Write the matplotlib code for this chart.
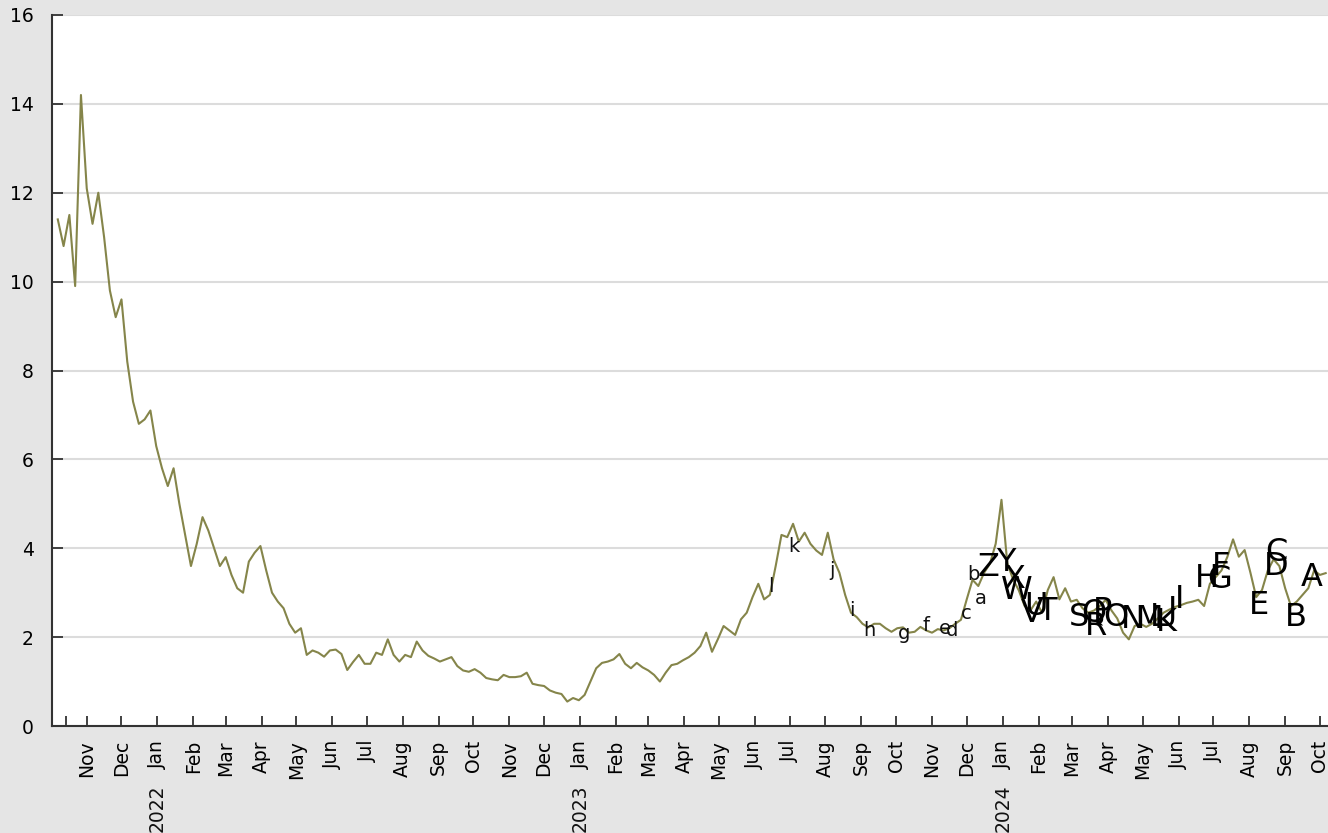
import numpy as np
import pandas as pd
import matplotlib
matplotlib.use("Agg")
import matplotlib.pyplot as plt
import matplotlib.dates as mdates
import matplotlib.transforms as mtransforms

# Serie (cada 5 dias)
start_date = "2021-10-07"
values = [
    11.4, 10.8, 11.5, 9.9, 14.2, 12.1, 11.3, 12.0, 11.0, 9.8,
    9.2, 9.6, 8.2, 7.3, 6.8, 6.9, 7.1, 6.3, 5.8, 5.4,
    5.8, 5.0, 4.3, 3.6, 4.1, 4.7, 4.4, 4.0, 3.6, 3.8,
    3.4, 3.1, 3.0, 3.7, 3.9, 4.05, 3.5, 3.0, 2.8, 2.65,
    2.3, 2.1, 2.2, 1.6, 1.7, 1.65, 1.56, 1.7, 1.72, 1.62,
    1.26, 1.44, 1.6, 1.4, 1.4, 1.65, 1.6, 1.95, 1.6, 1.45,
    1.6, 1.55, 1.9, 1.7, 1.58, 1.52, 1.45, 1.5, 1.55, 1.35,
    1.25, 1.22, 1.28, 1.2, 1.08, 1.05, 1.03, 1.15, 1.1, 1.1,
    1.12, 1.2, 0.95, 0.92, 0.9, 0.8, 0.75, 0.72, 0.55, 0.63,
    0.58, 0.7, 1.0, 1.3, 1.42, 1.45, 1.5, 1.62, 1.4, 1.3,
    1.42, 1.32, 1.25, 1.15, 1.0, 1.2, 1.37, 1.4, 1.48, 1.55,
    1.65, 1.8, 2.1, 1.67, 1.95, 2.25, 2.15, 2.05, 2.4, 2.55,
    2.9, 3.2, 2.85, 2.95, 3.6, 4.3, 4.25, 4.55, 4.15, 4.35,
    4.1, 3.95, 3.85, 4.35, 3.75, 3.45, 2.95, 2.55, 2.45, 2.3,
    2.22, 2.3, 2.3, 2.2, 2.12, 2.2, 2.22, 2.1, 2.12, 2.23,
    2.15, 2.1, 2.18, 2.15, 2.2, 2.3, 2.39, 2.85, 3.29, 3.15,
    3.45, 3.65, 4.1, 5.09, 3.67, 3.3, 3.05, 2.7, 2.6, 2.8,
    2.55, 3.06, 3.35, 2.85, 3.1, 2.8, 2.84, 2.65, 2.55, 2.6,
    2.7, 2.84, 2.6, 2.42, 2.1, 1.95, 2.25, 2.3, 2.23, 2.3,
    2.42, 2.55, 2.62, 2.68, 2.72, 2.77, 2.8, 2.84, 2.7, 3.2,
    3.35, 3.5, 3.8, 4.2, 3.81, 3.96, 3.45, 2.9, 3.06, 3.5,
    3.75, 3.6, 3.1, 2.7, 2.8, 2.95, 3.1, 3.5, 3.4, 3.44,
]

# Etiquetas de letras (mayusculas y minusculas)
upper_labels = list("ABCDEFGHIJKLMNOPQRSTUVWXYZ")
upper_dates = [
    "2024-09-24", "2024-09-10", "2024-08-24", "2024-08-24", "2024-08-09",
    "2024-07-08", "2024-07-06", "2024-06-25", "2024-06-02", "2024-05-27",
    "2024-05-21", "2024-05-15", "2024-05-07", "2024-04-22", "2024-04-08",
    "2024-03-27", "2024-03-20", "2024-03-22", "2024-03-07", "2024-02-08",
    "2024-01-30", "2024-01-26", "2024-01-13", "2024-01-11", "2024-01-04",
    "2023-12-20",
]
upper_values = [
    3.35, 2.45, 3.9, 3.58, 2.72, 3.58, 3.29, 3.33, 2.84, 2.61,
    2.32, 2.45, 2.39, 2.39, 2.45, 2.57, 2.54, 2.23, 2.45, 2.57,
    2.68, 2.54, 3.06, 3.29, 3.69, 3.56,
]
lower_labels = list("abcdefghijkl")
lower_dates = [
    "2023-12-13", "2023-12-07", "2023-12-01", "2023-11-18", "2023-11-12",
    "2023-10-27", "2023-10-08", "2023-09-08", "2023-08-24", "2023-08-07",
    "2023-07-05", "2023-06-15",
]
lower_values = [2.88, 3.4, 2.54, 2.16, 2.2, 2.27, 2.09, 2.16, 2.61, 3.51, 4.03, 3.13]

years = ["2022", "2023", "2024"]

dates = pd.date_range(start_date, periods=len(values), freq="5D")

fig = plt.figure(figsize=(13.28, 8.33), dpi=100, facecolor="#e5e5e5")
ax = fig.add_axes([52 / 1328, 107 / 833, 1276 / 1328, 711 / 833])
ax.set_facecolor("white")

ax.plot(dates, values, color="#85854a", lw=1.5, zorder=3)

for lab, d, v in zip(upper_labels, upper_dates, upper_values):
    ax.text(mdates.date2num(pd.Timestamp(d)), v, lab, fontsize=23, ha="center",
            va="center", color="#000000", zorder=4)
for lab, d, v in zip(lower_labels, lower_dates, lower_values):
    ax.text(mdates.date2num(pd.Timestamp(d)), v, lab, fontsize=14, ha="center",
            va="center", color="#111111", zorder=4)

ax.set_ylim(0, 16)
ax.set_yticks(range(0, 17, 2))
ax.set_xlim(pd.Timestamp("2021-10-02"), pd.Timestamp("2024-10-08"))

ax.xaxis.set_major_locator(mdates.MonthLocator())
ax.xaxis.set_major_formatter(mdates.DateFormatter("%b"))
ax.set_xticks([mdates.date2num(pd.Timestamp("2021-10-14"))], minor=True)

ax.grid(axis="y", color="#dcdcdc", lw=1.5, zorder=0)
for s in ["top", "right"]:
    ax.spines[s].set_visible(False)
for s in ["left", "bottom"]:
    ax.spines[s].set_color("#333333")
    ax.spines[s].set_linewidth(1.5)

ax.tick_params(axis="y", direction="in", length=8, width=1.3, color="#333333",
               labelsize=13.5, pad=13)
ax.tick_params(axis="x", which="both", direction="in", length=7, width=1.3,
               color="#333333", labelsize=13.5, pad=10, labelrotation=90)

# Etiquetas de año debajo de enero
trans = mtransforms.blended_transform_factory(ax.transData, ax.transAxes)
for y in years:
    ax.annotate(y, xy=(mdates.date2num(pd.Timestamp(y + "-01-01")), 0),
                xycoords=trans, xytext=(0, -42), textcoords="offset points",
                rotation=90, ha="center", va="top", fontsize=13.5,
                color="#111111")

fig.savefig("out.png", dpi=100, facecolor=fig.get_facecolor())
